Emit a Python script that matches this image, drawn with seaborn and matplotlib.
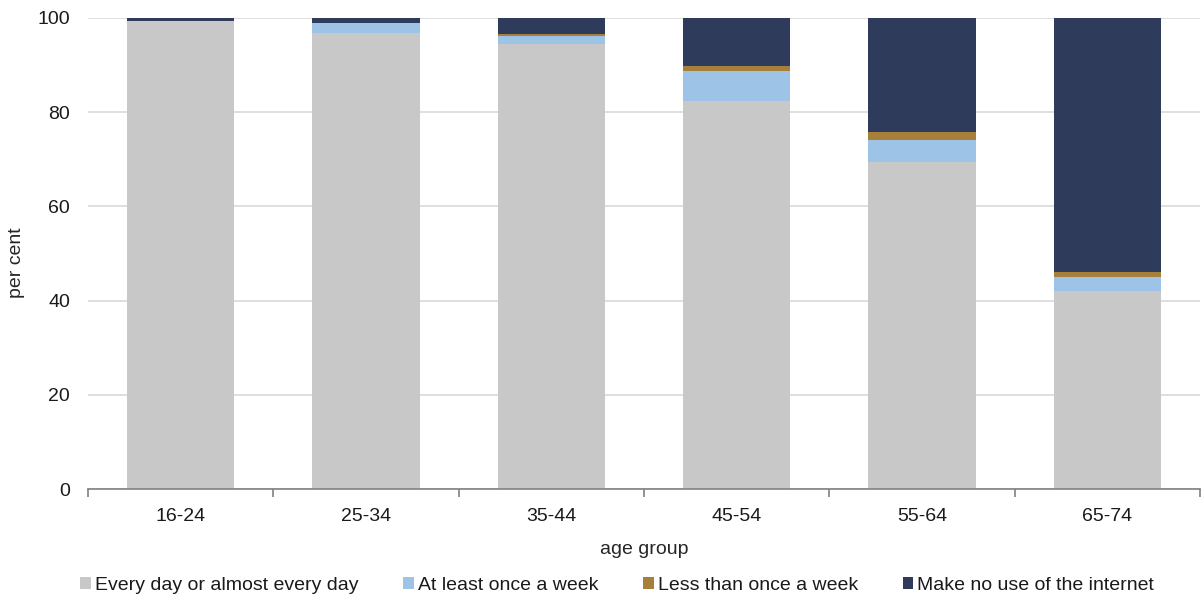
import numpy as np
import pandas as pd
import seaborn as sns
import matplotlib.pyplot as plt

age_groups = ['16-24', '25-34', '35-44', '45-54', '55-64', '65-74']
every_day = [99.3, 96.8, 94.5, 82.4, 69.4, 42.1]
weekly = [0.1, 2.1, 1.6, 6.3, 4.7, 2.9]
less_weekly = [0.0, 0.1, 0.4, 1.1, 1.6, 1.1]
no_use = [0.6, 1.0, 3.5, 10.2, 24.3, 53.9]

series_names = ['Every day or almost every day', 'At least once a week',
                'Less than once a week', 'Make no use of the internet']
colors = ['#C8C8C8', '#9DC3E6', '#A67F3A', '#2E3B5A']

sns.set_style('white')
plt.rcParams['font.family'] = ['Liberation Sans', 'DejaVu Sans']
plt.rcParams['font.size'] = 14
plt.rcParams['text.color'] = '#1a1a1a'

df = pd.DataFrame({'age': age_groups, 'every': every_day, 'weekly': weekly,
                   'less': less_weekly, 'none': no_use})
cols = ['every', 'weekly', 'less', 'none']
cum = df[cols].cumsum(axis=1)

fig = plt.figure(figsize=(12.02, 5.99), dpi=100)
ax = fig.add_axes([88/1202, 1 - 489/599, (1200-88)/1202, (489-18)/599])

# draw from the top of the stack down so each layer covers the one above
for col, name, c in reversed(list(zip(cols, series_names, colors))):
    sns.barplot(x=df['age'], y=cum[col], color=c, width=0.58, ax=ax,
                label=name, saturation=1, linewidth=0)

ax.set_ylim(0, 100)
ax.set_yticks(np.arange(0, 101, 20))
ax.set_xlim(-0.5, 5.5)
ax.yaxis.grid(True, color='#D9D9D9', linewidth=1.2)
ax.set_axisbelow(True)
for s in ['top', 'right', 'left']:
    ax.spines[s].set_visible(False)
ax.spines['bottom'].set_color('#808080')
ax.spines['bottom'].set_linewidth(1.2)

ax.set_xticks(np.arange(-0.5, 6, 1), minor=True)
ax.tick_params(axis='x', which='minor', bottom=True, length=6,
               color='#808080', width=1.2)
ax.tick_params(axis='x', which='major', length=0, pad=14, labelsize=14,
               labelcolor='#1a1a1a')
ax.tick_params(axis='y', length=0, pad=13, labelsize=14, labelcolor='#1a1a1a')
ax.set_xlabel('age group', labelpad=11, fontsize=14)
ax.set_ylabel('per cent', fontsize=14)
ax.yaxis.set_label_coords(-0.057, 0.48)

handles, labels = ax.get_legend_handles_labels()
order = [labels.index(n) for n in series_names]
ax.legend([handles[i] for i in order], [labels[i] for i in order],
          loc='center', bbox_to_anchor=(0.476, -0.205), ncol=4, frameon=False,
          handlelength=0.55, handleheight=0.55, handletextpad=0.2,
          columnspacing=2.3, fontsize=14)

fig.savefig('out.png', dpi=100)
